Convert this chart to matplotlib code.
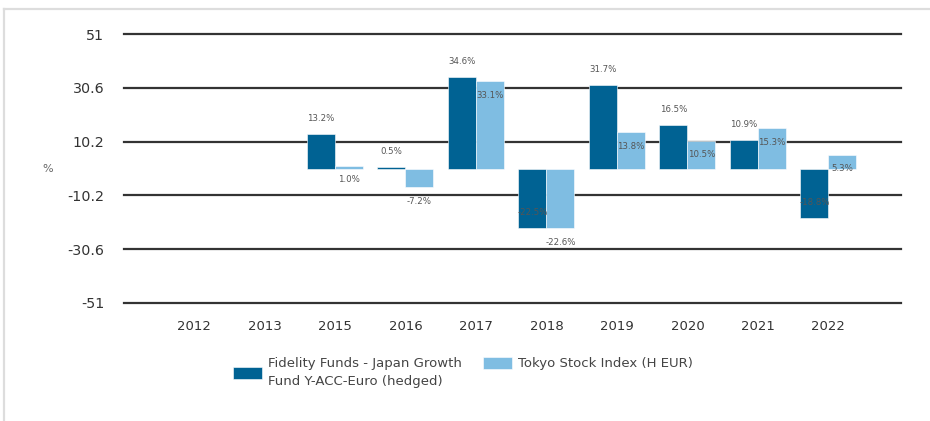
import matplotlib
matplotlib.use("Agg")
import matplotlib.pyplot as plt
import numpy as np
from matplotlib.lines import Line2D

years = ["2012", "2013", "2015", "2016", "2017", "2018", "2019", "2020", "2021", "2022"]
fund = [np.nan, np.nan, 13.2, 0.5, 34.6, -22.5, 31.7, 16.5, 10.9, -18.8]
index = [np.nan, np.nan, 1.0, -7.2, 33.1, -22.6, 13.8, 10.5, 15.3, 5.3]
yticks = [51, 30.6, 10.2, -10.2, -30.6, -51]
ytick_labels = ["51", "30.6", "10.2", "-10.2", "-30.6", "-51"]
fund_name = "Fidelity Funds - Japan Growth\nFund Y-ACC-Euro (hedged)"
index_name = "Tokyo Stock Index (H EUR)"

DARK = "#006293"
LIGHT = "#7fbde2"
W, H = 930, 421
fig = plt.figure(figsize=(W / 100, H / 100), dpi=100)
plt.rcParams['font.family'] = ['DejaVu Sans']

ax = fig.add_axes([124 / W, 1 - 303 / H, 777 / W, 269 / H])
x = np.arange(len(years))
bw = 0.397
b1 = ax.bar(x - bw / 2, fund, bw, color=DARK, edgecolor="white", linewidth=0.4, zorder=3, label=fund_name)
b2 = ax.bar(x + bw / 2, index, bw, color=LIGHT, edgecolor="white", linewidth=0.4, zorder=3, label=index_name)

for xi, v in zip(x, fund):
    if np.isnan(v):
        continue
    ax.annotate(f"{v:.1f}%", (xi - bw / 2, v), xytext=(0, 15.5), textcoords="offset pixels",
                ha="center", va="center", fontsize=6.2, color="#555555", zorder=5)
for xi, v in zip(x, index):
    if np.isnan(v):
        continue
    ax.annotate(f"{v:.1f}%", (xi + bw / 2, v), xytext=(0, -14), textcoords="offset pixels",
                ha="center", va="center", fontsize=6.2, color="#555555", zorder=5)

ax.set_ylim(-51, 51)
ax.set_xlim(-0.993, 10.03)
ax.set_yticks(yticks)
ax.set_yticklabels(ytick_labels)
ax.set_xticks(x)
ax.set_xticklabels(years)
ax.tick_params(axis="y", length=0, pad=14, labelsize=10.3, labelcolor="#333333")
ax.tick_params(axis="x", length=0, pad=12, labelsize=9.5, labelcolor="#333333")
ax.grid(axis="y", color="#333333", linewidth=1.6, zorder=0)
for gl in ax.get_ygridlines():
    gl.set_clip_on(False)
ax.set_axisbelow(True)
for s in ax.spines.values():
    s.set_visible(False)
ax.set_ylabel("%", rotation=0, fontsize=8, color="#666666", va="center")
ax.yaxis.set_label_coords(-(124 - 48) / 777, 0.5)

# outer frame
fig.add_artist(Line2D([4 / W, 4 / W], [0, 1 - 9 / H], color="#dddddd", linewidth=1.6, transform=fig.transFigure))
fig.add_artist(Line2D([4 / W, 1], [1 - 9 / H, 1 - 9 / H], color="#dddddd", linewidth=1.6, transform=fig.transFigure))

fs = 9.5
px = fs * 100 / 72
common = dict(frameon=False, fontsize=fs, borderpad=0, borderaxespad=0,
              handlelength=29 / px, handleheight=13 / px, handletextpad=6 / px,
              labelcolor="#444444", loc="upper left")
leg1 = fig.legend(handles=[b1], bbox_to_anchor=(233 / W, 1 - 357 / H), **common)
for t in leg1.get_texts():
    t.set_linespacing(1.55)
fig.legend(handles=[b2], bbox_to_anchor=(483 / W, 1 - 357 / H), **common)

fig.savefig("out.png", dpi=100)
